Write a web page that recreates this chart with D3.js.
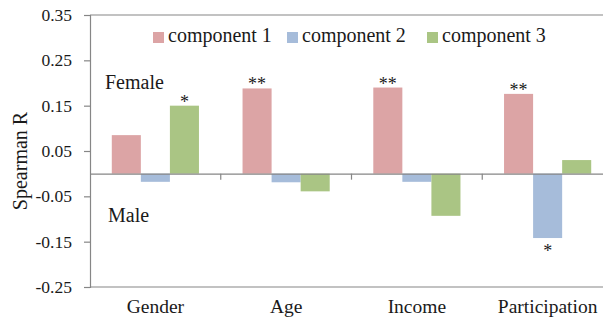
<!DOCTYPE html>
<html>
<head>
<meta charset="utf-8">
<script src="https://cdn.jsdelivr.net/npm/d3@7"></script>
<style>
  html, body { margin: 0; padding: 0; background: #fff; }
</style>
</head>
<body>
<svg id="chart" width="603" height="321"></svg>
<script>
// Categories and series
const categories = ["Gender", "Age", "Income", "Participation"];
const seriesNames = ["component 1", "component 2", "component 3"];
const component1 = [0.085, 0.188, 0.190, 0.176];
const component2 = [-0.018, -0.019, -0.018, -0.142];
const component3 = [0.150, -0.039, -0.093, 0.030];
// Significance markers per category, per component
const sig1 = ["", "**", "**", "**"];
const sig2 = ["", "", "", "*"];
const sig3 = ["*", "", "", ""];
const yTicks = [-0.25, -0.15, -0.05, 0.05, 0.15, 0.25, 0.35];
const colors = ["#dca4a5", "#a6bcda", "#aac584"];

const seriesValues = [component1, component2, component3];
const seriesSig = [sig1, sig2, sig3];

const FONT = "'Liberation Serif', 'Times New Roman', serif";
const svg = d3.select("#chart");
const plotLeft = 90, plotRight = 613, plotTop = 15, plotBottom = 287;

const y = d3.scaleLinear().domain([-0.25, 0.35]).range([plotBottom, plotTop]);
const x = d3.scaleBand().domain(categories).range([plotLeft, plotRight]).paddingInner(0).paddingOuter(0);
const xi = d3.scaleBand().domain(seriesNames).range([0, x.bandwidth()]).paddingInner(0).paddingOuter(0.75);

const axisColor = "#868686";
const textColor = "#1a1a1a";

// Plot frame (top and bottom lines)
svg.append("line").attr("x1", plotLeft).attr("x2", plotRight).attr("y1", y(0.35)).attr("y2", y(0.35))
  .attr("stroke", axisColor).attr("stroke-width", 1.2);
svg.append("line").attr("x1", plotLeft).attr("x2", plotRight).attr("y1", y(-0.25)).attr("y2", y(-0.25))
  .attr("stroke", axisColor).attr("stroke-width", 1.2);

// Bars
const rows = [];
categories.forEach((c, i) => {
  seriesNames.forEach((s, j) => {
    rows.push({ cat: c, series: s, value: seriesValues[j][i], sig: seriesSig[j][i], color: colors[j] });
  });
});

svg.append("g").selectAll("rect").data(rows).join("rect")
  .attr("x", d => x(d.cat) + xi(d.series))
  .attr("width", xi.bandwidth())
  .attr("y", d => y(Math.max(0, d.value)))
  .attr("height", d => Math.abs(y(d.value) - y(0)))
  .attr("fill", d => d.color);

// Significance stars
svg.append("g").selectAll("text").data(rows.filter(d => d.sig)).join("text")
  .attr("x", d => x(d.cat) + xi(d.series) + xi.bandwidth() / 2)
  .attr("y", d => d.value >= 0 ? y(d.value) + 2 : y(d.value) + 19)
  .attr("text-anchor", "middle")
  .style("font-family", FONT).style("font-size", "18px")
  .attr("fill", textColor)
  .text(d => d.sig);

// Y axis
const fmt = d3.format(".2f");
const yAxis = d3.axisLeft(y).tickValues(yTicks).tickSize(6).tickPadding(12)
  .tickFormat(d => fmt(d).replace("\u2212", "-"));
const gy = svg.append("g").attr("transform", `translate(${plotLeft},0)`).call(yAxis);
gy.select(".domain").attr("stroke", axisColor).attr("stroke-width", 1.2);
gy.selectAll(".tick line").attr("stroke", axisColor).attr("stroke-width", 1.2);
gy.selectAll(".tick text").style("font-family", FONT).style("font-size", "17.5px").attr("fill", textColor);

// Zero line with category ticks
const gx = svg.append("g").attr("transform", `translate(0,${y(0)})`)
  .call(d3.axisBottom(x).tickSize(0).tickFormat(""));
gx.select(".domain").attr("stroke", axisColor).attr("stroke-width", 1.2);
svg.append("g").selectAll("line").data(categories.slice(1)).join("line")
  .attr("x1", d => x(d)).attr("x2", d => x(d))
  .attr("y1", y(0)).attr("y2", y(0) + 6)
  .attr("stroke", axisColor).attr("stroke-width", 1.2);

// Category labels
svg.append("g").selectAll("text").data(categories).join("text")
  .attr("x", d => x(d) + x.bandwidth() / 2)
  .attr("y", 313)
  .attr("text-anchor", "middle")
  .style("font-family", FONT).style("font-size", "19.5px")
  .attr("fill", textColor)
  .text(d => d);

// Y axis title
svg.append("text")
  .attr("transform", "translate(27,161) rotate(-90)")
  .attr("text-anchor", "middle")
  .style("font-family", FONT).style("font-size", "20px")
  .attr("fill", textColor)
  .text("Spearman R");

// Region notes
svg.append("text").attr("x", 105).attr("y", 89)
  .style("font-family", FONT).style("font-size", "20px").attr("fill", textColor).text("Female");
svg.append("text").attr("x", 108).attr("y", 222)
  .style("font-family", FONT).style("font-size", "20px").attr("fill", textColor).text("Male");

// Legend
const legendX = [153, 287, 427];
const lg = svg.append("g").selectAll("g").data(seriesNames).join("g")
  .attr("transform", (d, i) => `translate(${legendX[i]},0)`);
lg.append("rect").attr("x", 0).attr("y", 32).attr("width", 11).attr("height", 11)
  .attr("fill", (d, i) => colors[i]);
lg.append("text").attr("x", 15).attr("y", 42)
  .style("font-family", FONT).style("font-size", "20px").attr("fill", textColor)
  .text(d => d);
</script>
</body>
</html>
